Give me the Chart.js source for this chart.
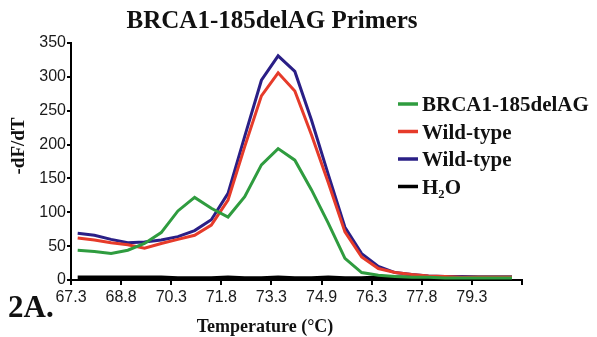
<!doctype html>
<html lang="en">
  <head>
    <meta charset="utf-8">
    <title>BRCA1-185delAG Primers</title>
    <style>
      html, body { margin: 0; padding: 0; background: #fff; }
    </style>
  </head>
  <body>
    <canvas id="myChart" width="597" height="337"></canvas>

    <script src="https://cdn.jsdelivr.net/npm/chart.js"></script>
    <script>
        // melt curve, one reading every 0.5 degC
        var temps = [67.5, 68.0, 68.5, 69.0, 69.5, 70.0, 70.5, 71.0, 71.5, 72.0, 72.5, 73.0, 73.5,
                     74.0, 74.5, 75.0, 75.5, 76.0, 76.5, 77.0, 77.5, 78.0, 78.5, 79.0, 79.5, 80.0, 80.5];
        var mutant = [44, 42, 39, 44, 54, 70, 102, 122, 106, 93, 123, 170, 194,
                      177, 133, 84, 32, 11, 7, 5, 4, 4, 3, 3, 3, 3, 3];
        var wildType1 = [62, 59, 55, 52, 47, 54, 60, 66, 81, 118, 197, 272, 306,
                         279, 214, 144, 71, 34, 17, 11, 8, 6, 5, 4, 4, 4, 4];
        var wildType2 = [69, 66, 60, 55, 56, 59, 64, 73, 89, 128, 212, 295, 331,
                         308, 236, 156, 78, 39, 20, 11, 8, 6, 5, 5, 4, 4, 4];
        var water = [3, 3, 3, 3, 3, 3, 2, 2, 2, 3, 2, 2, 3,
                     2, 2, 3, 2, 2, 3, 3, 3, 3, 3, 3, 3, 3, 3];

        var seriesLabels = ['BRCA1-185delAG', 'Wild-type', 'Wild-type', 'H\u2082O'];
        var xTicks = [67.3, 68.8, 70.3, 71.8, 73.3, 74.8, 76.3, 77.8, 79.3, 80.8];
        var xTickLabels = ['67.3', '68.8', '70.3', '71.8', '73.3', '74.9', '76.3', '77.8', '79.3', ''];

        var serif = '"Liberation Serif", "DejaVu Serif", serif';
        var sans = '"Liberation Sans", Arial, sans-serif';

        function points(values) {
            return values.map(function (v, i) { return { x: temps[i], y: v }; });
        }

        // title, axis titles, panel tag and the in-plot legend
        const extraText = {
            id: 'extraText',
            afterDraw(chart) {
                const ctx = chart.ctx;
                ctx.save();
                ctx.fillStyle = '#111';
                ctx.textBaseline = 'alphabetic';

                ctx.font = 'bold 25px ' + serif;
                ctx.textAlign = 'center';
                ctx.fillText('BRCA1-185delAG Primers', 272, 28);

                ctx.font = 'bold 18px ' + serif;
                ctx.fillText('Temperature (\u00b0C)', 265, 332);

                ctx.save();
                ctx.translate(24, 146);
                ctx.rotate(-Math.PI / 2);
                ctx.font = 'bold 19px ' + serif;
                ctx.fillText('-dF/dT', 0, 0);
                ctx.restore();

                ctx.textAlign = 'left';
                ctx.font = 'bold 31px ' + serif;
                ctx.fillText('2A.', 8, 317);

                ctx.font = 'bold 21px ' + serif;
                chart.data.datasets.forEach(function (ds, i) {
                    const y = 104 + i * 27.5;
                    ctx.strokeStyle = ds.borderColor;
                    ctx.lineWidth = 3.5;
                    ctx.beginPath();
                    ctx.moveTo(398, y);
                    ctx.lineTo(418, y);
                    ctx.stroke();
                    ctx.fillText(ds.label, 422, y + 7);
                });
                ctx.restore();
            }
        };

        const ctx = document.getElementById('myChart');
        new Chart(ctx, {
            type: 'line',
            data: {
                datasets: [
                    { label: seriesLabels[0], data: points(mutant), borderColor: '#2f9c3f', borderWidth: 3 },
                    { label: seriesLabels[1], data: points(wildType1), borderColor: '#e63b2a', borderWidth: 3 },
                    { label: seriesLabels[2], data: points(wildType2), borderColor: '#2a1f86', borderWidth: 3 },
                    { label: seriesLabels[3], data: points(water), borderColor: '#000000', borderWidth: 5 }
                ]
            },
            options: {
                responsive: false,
                animation: false,
                layout: { padding: { left: 0, right: 75, top: 43, bottom: 0 } },
                elements: {
                    point: { radius: 0 },
                    line: { tension: 0, fill: false }
                },
                plugins: {
                    legend: { display: false },
                    title: { display: false },
                    tooltip: { enabled: false }
                },
                scales: {
                    x: {
                        type: 'linear',
                        min: 67.3,
                        max: 80.8,
                        afterBuildTicks: function (scale) {
                            scale.ticks = xTicks.map(function (v) { return { value: v }; });
                        },
                        afterFit: function (scale) { scale.height = 57; },
                        ticks: {
                            autoSkip: false,
                            maxRotation: 0,
                            padding: 3,
                            color: '#1a1a1a',
                            font: { family: sans, size: 16 },
                            callback: function (value, index) { return xTickLabels[index]; }
                        },
                        grid: { drawOnChartArea: false, color: '#000', lineWidth: 2, tickLength: 5 },
                        border: { color: '#000', width: 2 }
                    },
                    y: {
                        min: 0,
                        max: 350,
                        afterFit: function (scale) { scale.width = 71; },
                        ticks: {
                            stepSize: 50,
                            padding: 1,
                            color: '#1a1a1a',
                            font: { family: sans, size: 16 }
                        },
                        grid: { drawOnChartArea: false, color: '#000', lineWidth: 2, tickLength: 4 },
                        border: { color: '#000', width: 2 }
                    }
                }
            },
            plugins: [extraText]
        });
    </script>
  </body>
</html>
